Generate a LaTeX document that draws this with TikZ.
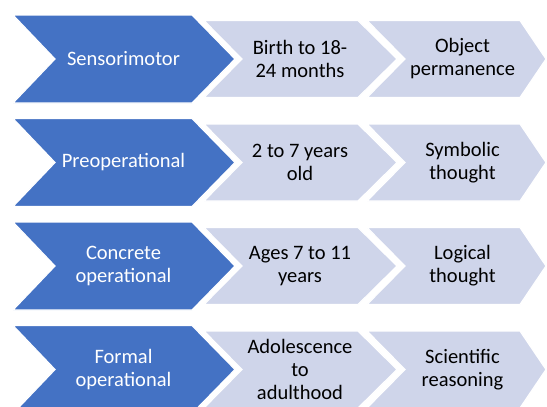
\documentclass[tikz,border=0pt]{standalone}
\usepackage{fontspec}
\setmainfont{Carlito}
\definecolor{darkblue}{HTML}{4472C4}
\definecolor{lightblue}{HTML}{CFD5EA}
\newcommand\chevrow[5]{%
  % #1 name, #2 centre y, #3 dark text, #4 middle text, #5 right text
  \path[lightshape] (367,#2-38.5) -- (520,#2-38.5) -- (546,#2) -- (520,#2+38.5) -- (367,#2+38.5) -- (405,#2) -- cycle;
  \path[lightshape] (204,#2-38.5) -- (358,#2-38.5) -- (397,#2) -- (358,#2+38.5) -- (204,#2+38.5) -- (242,#2) -- cycle;
  \path[darkshape] (13,#2-44) -- (192,#2-44) -- (235,#2) -- (192,#2+44) -- (13,#2+44) -- (55,#2) -- cycle;
  \node[lab,text=white] (#1d) at (123.5,#2) {#3};
  \node[lab] (#1m) at (300,#2) {#4};
  \node[lab] (#1r) at (462.5,#2) {#5};
}
\begin{document}
\begin{tikzpicture}[x=1pt,y=-1pt,
  darkshape/.style={fill=darkblue,draw=white,line width=1.2pt,line join=miter},
  lightshape/.style={fill=lightblue,draw=white,line width=1.2pt,line join=miter},
  lab/.style={align=center,font=\fontsize{20.5}{23}\selectfont,inner sep=0pt,text=black}]
\useasboundingbox (0,0) rectangle (547,407);
\chevrow{r1}{59}{Sensorimotor}{Birth to 18-\\24 months}{Object\\permanence}
\chevrow{r2}{162.5}{Preoperational}{2 to 7 years\\old}{Symbolic\\thought}
\chevrow{r3}{266}{Concrete\\operational}{Ages 7 to 11\\years}{Logical\\thought}
\chevrow{r4}{369.5}{Formal\\operational}{Adolescence\\to\\adulthood}{Scientific\\reasoning}
\end{tikzpicture}
\end{document}
